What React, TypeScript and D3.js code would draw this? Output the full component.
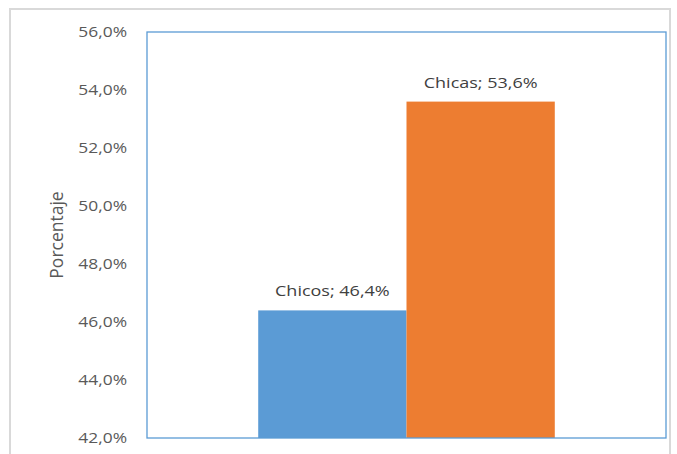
import React from "react";
import * as d3 from "d3";

const categories = ["Chicos", "Chicas"];
const values = [46.4, 53.6];
const colors = ["#5B9BD5", "#ED7D31"];
const yTicks = [42, 44, 46, 48, 50, 52, 54, 56];
const yLabel = "Porcentaje";

const W = 677;
const H = 454;
const plot = { left: 147, right: 666, top: 32, bottom: 438 };
const stretch = 1.2;

const fmt = (v: number) => v.toFixed(1).replace(".", ",") + "%";

export default function App() {
  const y = d3.scaleLinear().domain([42, 56]).range([plot.bottom, plot.top]);
  // Excel gap width 150%: 2 adjacent bars of width w, gap 1.5w → total 3.5w
  const unit = (plot.right - plot.left) / 3.5;
  const x = d3
    .scaleBand<string>()
    .domain(categories)
    .range([plot.left + unit * 0.75, plot.right - unit * 0.75])
    .padding(0);

  return (
    <svg
      width={W}
      height={H}
      style={{ position: "absolute", left: 0, top: 0, background: "#fff" }}
      fontFamily="'Open Sans', sans-serif"
    >
      <rect x={10} y={9} width={660} height={460} fill="none" stroke="#d9d9d9" strokeWidth={2} />
      {categories.map((c, i) => (
        <rect
          key={c}
          x={x(c)!}
          y={y(values[i])}
          width={x.bandwidth()}
          height={y(42) - y(values[i])}
          fill={colors[i]}
        />
      ))}
      <rect
        x={plot.left}
        y={plot.top}
        width={plot.right - plot.left}
        height={plot.bottom - plot.top}
        fill="none"
        stroke="#5B9BD5"
        strokeWidth={1.3}
      />
      {yTicks.map((t) => (
        <text
          key={t}
          transform={`translate(127,${y(t)}) scale(${stretch},1)`}
          dy="0.35em"
          textAnchor="end"
          fontSize={14.5}
          fill="#595959"
        >
          {fmt(t)}
        </text>
      ))}
      <text
        transform={`translate(${63},${(plot.top + plot.bottom) / 2}) rotate(-90)`}
        textAnchor="middle"
        fontSize={17.5}
        fill="#595959"
      >
        {yLabel}
      </text>
      {categories.map((c, i) => (
        <text
          key={c}
          transform={`translate(${x(c)! + x.bandwidth() / 2},${y(values[i]) - 14}) scale(${stretch},1)`}
          textAnchor="middle"
          fontSize={15}
          fill="#404040"
        >
          {`${c}; ${fmt(values[i])}`}
        </text>
      ))}
    </svg>
  );
}
